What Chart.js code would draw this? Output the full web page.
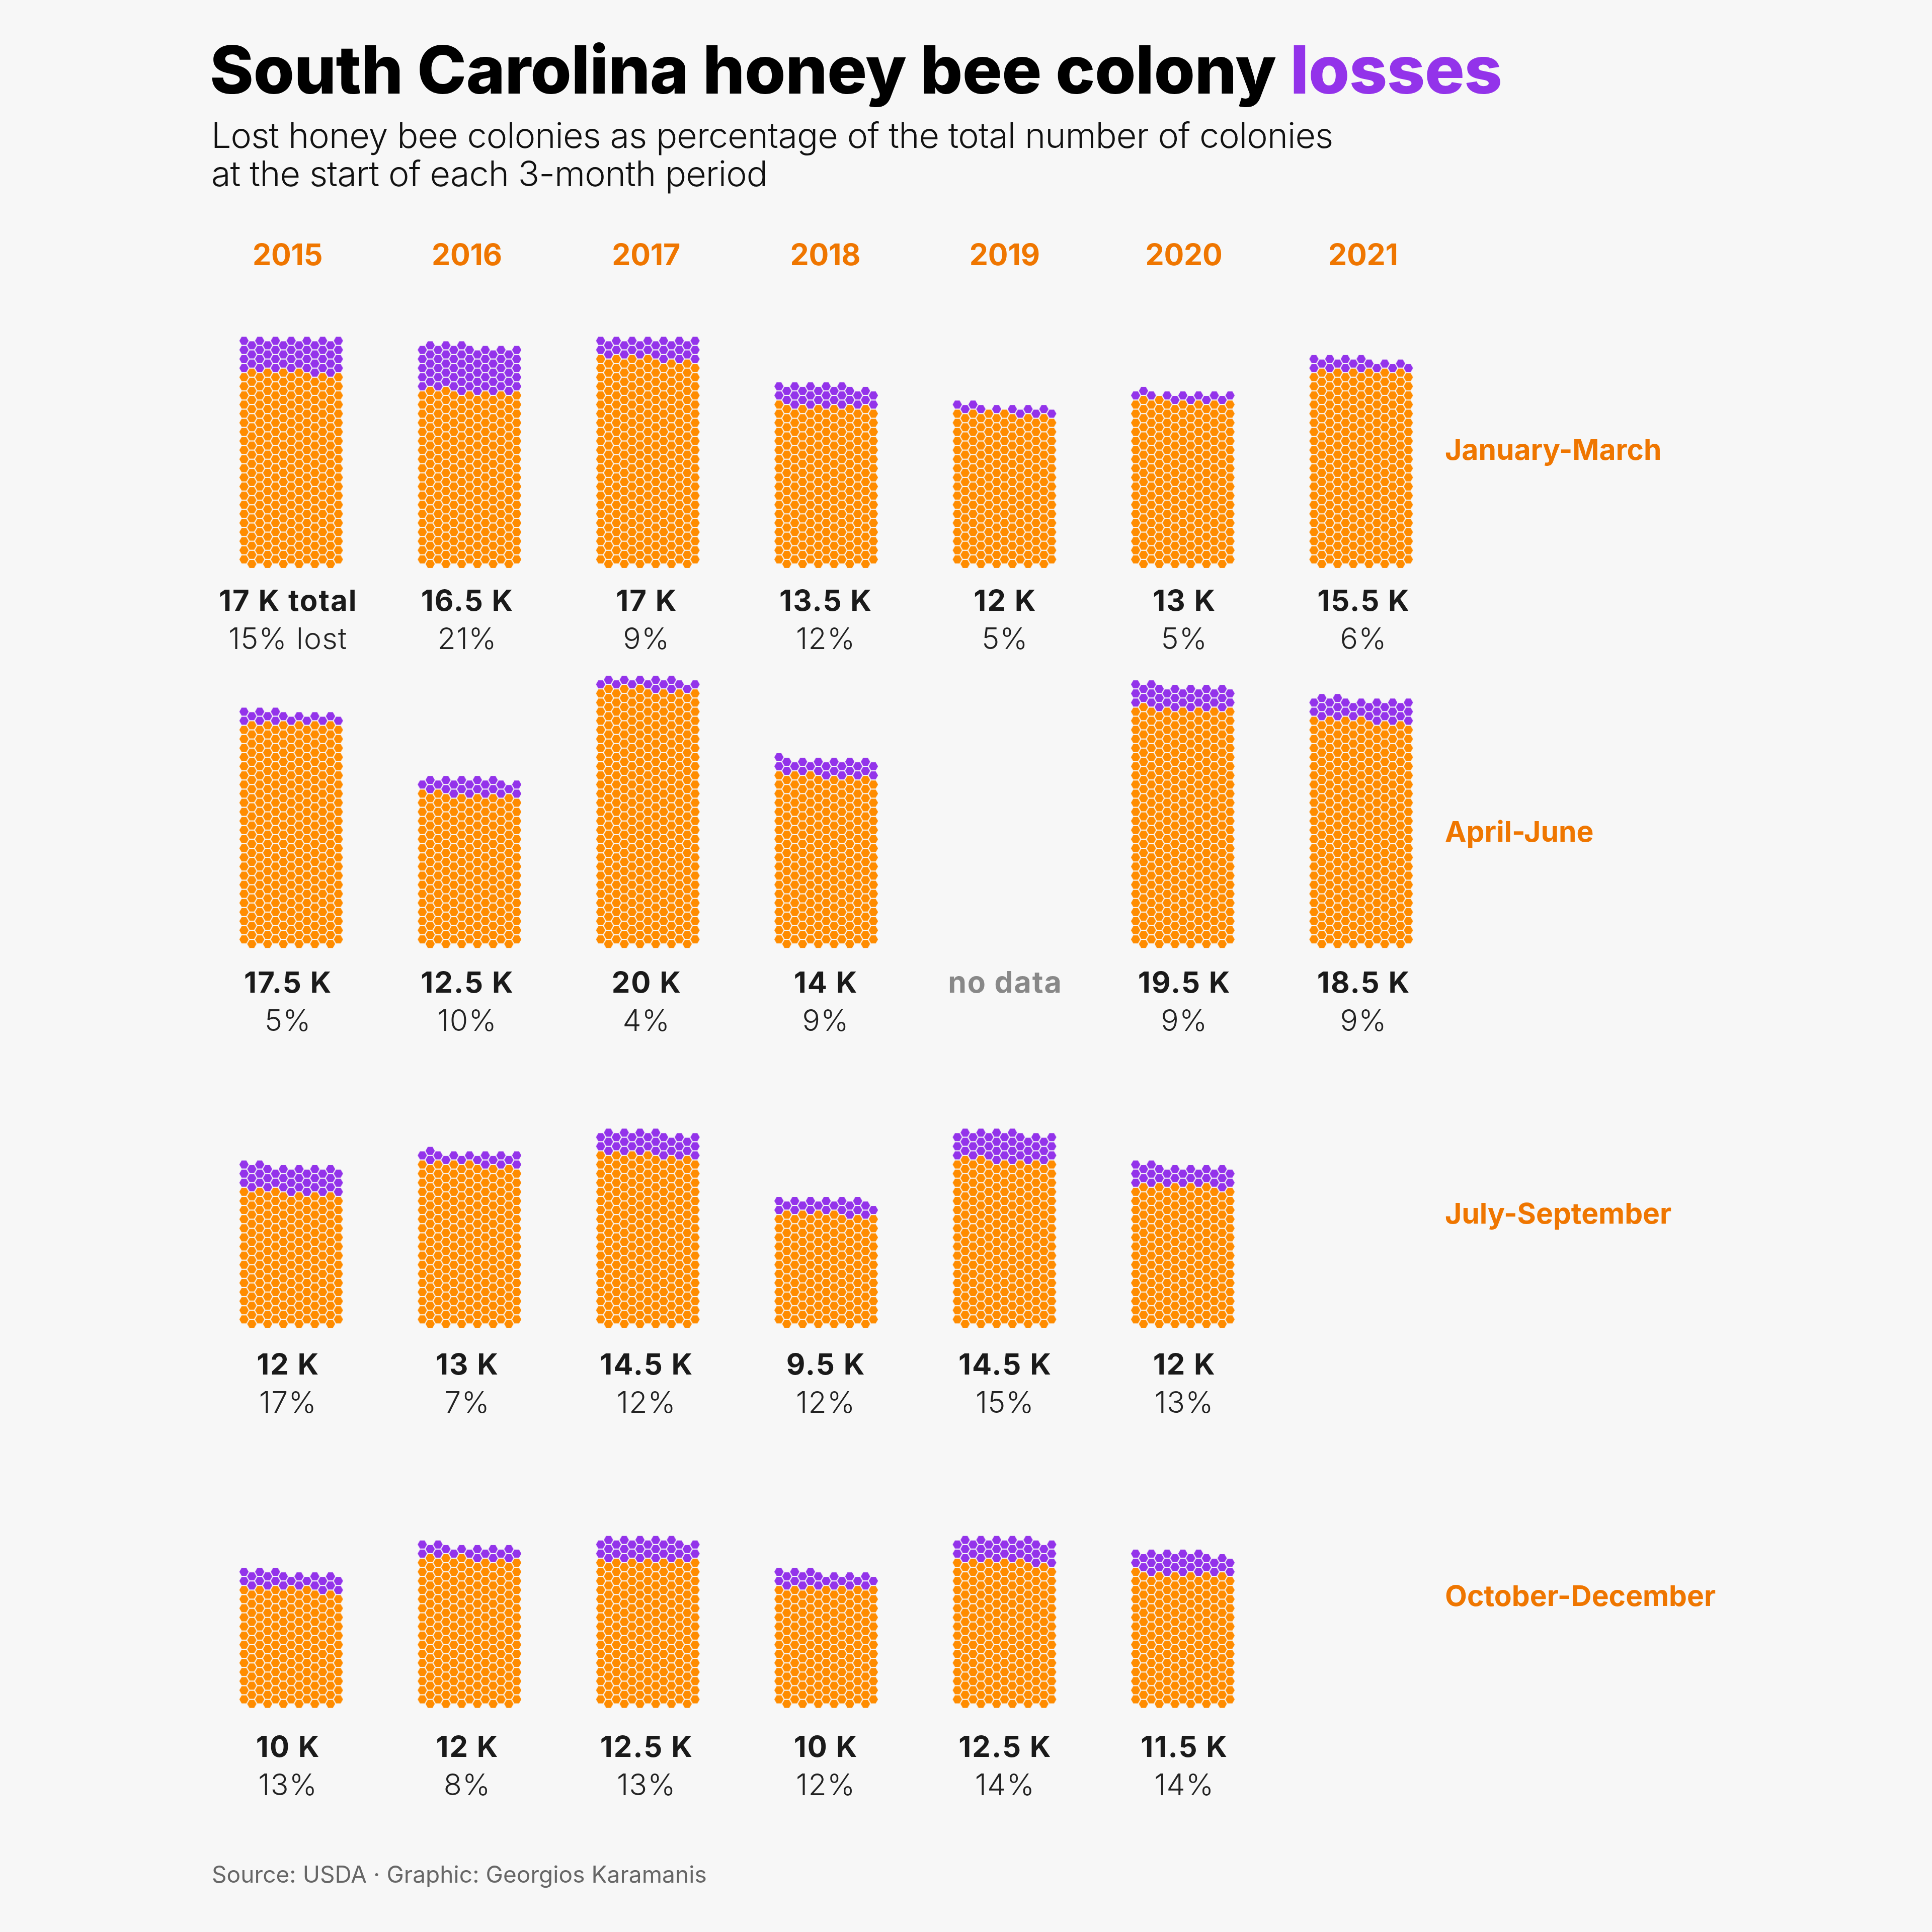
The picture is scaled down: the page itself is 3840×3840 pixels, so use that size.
<!DOCTYPE html>
<html><head><meta charset="utf-8">
<script src="https://cdn.jsdelivr.net/npm/chart.js@4.4.1/dist/chart.umd.min.js"></script>
<style>
html,body{margin:0;padding:0;background:#F7F7F7;}
body{width:3840px;height:3840px;position:relative;overflow:hidden;font-family:Inter,"Noto Sans",sans-serif;}
#c{position:absolute;left:0;top:0;}
.t{position:absolute;left:0;top:0;white-space:nowrap;line-height:1;}
.mk{display:inline-block;width:0;height:0;vertical-align:baseline;}
</style></head><body>
<canvas id="c" width="3840" height="3840"></canvas>
<div id="texts"></div>
<script>
// ---------------- data ----------------
const years = [2015, 2016, 2017, 2018, 2019, 2020, 2021];
const seasons = ['January-March', 'April-June', 'July-September', 'October-December'];
// total colonies at the start of each period (thousands); null = no data
const totalJanMar = [17, 16.5, 17, 13.5, 12, 13, 15.5];
const totalAprJun = [17.5, 12.5, 20, 14, null, 19.5, 18.5];
const totalJulSep = [12, 13, 14.5, 9.5, 14.5, 12, null];
const totalOctDec = [10, 12, 12.5, 10, 12.5, 11.5, null];
// percentage of colonies lost
const pctJanMar = [15, 21, 9, 12, 5, 5, 6];
const pctAprJun = [5, 10, 4, 9, null, 9, 9];
const pctJulSep = [17, 7, 12, 12, 15, 13, null];
const pctOctDec = [13, 8, 13, 12, 14, 14, null];
const noDataMark = [[], [2019], [], []];   // cells labelled "no data"

const totals = [totalJanMar, totalAprJun, totalJulSep, totalOctDec];
const pcts = [pctJanMar, pctAprJun, pctJulSep, pctOctDec];

// ---------------- layout constants ----------------
const COLONIES_PER_HEX = 52.3;
const NCOL = 13;
const CELL_X0 = 571.7, CELL_DX = 356.3;
const ROW_Y0 = 1116.7, ROW_DY = 759.2;
const HEX_DX = 15.72, HEX_HALF_DY = 9.1, HEX_R = 9.2;
const ORANGE = '#FF8C00', PURPLE = '#9333EA', LABEL_ORANGE = '#EF7600';

function hexImage(color) {
  const s = 22;
  const cv = document.createElement('canvas');
  cv.width = s; cv.height = s;
  const g = cv.getContext('2d');
  g.fillStyle = color;
  g.beginPath();
  for (let i = 0; i < 6; i++) {
    const a = Math.PI / 3 * i;
    const x = s / 2 + HEX_R * Math.cos(a), y = s / 2 + HEX_R * Math.sin(a);
    if (i) g.lineTo(x, y); else g.moveTo(x, y);
  }
  g.closePath(); g.fill();
  return cv;
}

const oddCols = [], evenCols = [];
for (let c = 0; c < NCOL; c++) (c % 2 ? oddCols : evenCols).push(c);

const keptPts = [], lostPts = [];
seasons.forEach((s, si) => {
  years.forEach((yr, yi) => {
    const t = totals[si][yi], p = pcts[si][yi];
    if (t == null) return;
    const n = Math.floor(t * 1000 / COLONIES_PER_HEX);
    const lost = Math.floor(n * p / 100);
    const cx = CELL_X0 + yi * CELL_DX, by = ROW_Y0 + si * ROW_DY;
    let idx = 0, k = 0;
    while (idx < n) {
      const cols = (k % 2 === 0) ? oddCols : evenCols;
      for (const c of cols) {
        if (idx >= n) break;
        const pt = { x: cx + (c - 6) * HEX_DX, y: by - k * HEX_HALF_DY };
        (idx >= n - lost ? lostPts : keptPts).push(pt);
        idx++;
      }
      k++;
    }
  });
});

new Chart(document.getElementById('c'), {
  type: 'scatter',
  data: {
    datasets: [
      { label: 'Remaining colonies', data: keptPts, pointStyle: hexImage(ORANGE), pointRadius: 9, pointHoverRadius: 9 },
      { label: 'Lost colonies', data: lostPts, pointStyle: hexImage(PURPLE), pointRadius: 9, pointHoverRadius: 9 }
    ]
  },
  options: {
    responsive: false, animation: false, devicePixelRatio: 1, events: [],
    layout: { padding: 0 },
    plugins: { legend: { display: false }, tooltip: { enabled: false } },
    scales: {
      x: { type: 'linear', min: 0, max: 3840, display: false },
      y: { type: 'linear', min: 0, max: 3840, reverse: true, display: false }
    }
  }
});

// ---------------- text ----------------
const host = document.getElementById('texts');
function mk(html, style) {
  const el = document.createElement('div');
  el.className = 't';
  el.innerHTML = html + '<span class="mk"></span>';
  Object.assign(el.style, style);
  host.appendChild(el);
  return el;
}
function fitLS(el, target) {
  el.style.letterSpacing = '0px';
  const w0 = el.getBoundingClientRect().width;
  const n = el.textContent.length;
  const fs = parseFloat(el.style.fontSize);
  return (target + 0.06 * fs - w0) / Math.max(1, n - 1);
}
function place(el, x, base, align, ls) {
  if (ls != null) el.style.letterSpacing = ls + 'px';
  const r = el.getBoundingClientRect();
  const m = el.querySelector('.mk').getBoundingClientRect();
  const w = r.width - (ls || 0);
  el.style.left = (align === 'center' ? x - w / 2 : x) + 'px';
  el.style.top = (base - (m.top - r.top)) + 'px';
}

// title & subtitle
const title = mk('South Carolina honey bee colony <span style="color:' + PURPLE + '">losses</span>',
  { fontSize: '132px', fontWeight: '800', color: '#000' });
place(title, 417, 186, 'left', fitLS(title, 2561));
const sub1 = mk('Lost honey bee colonies as percentage of the total number of colonies',
  { fontSize: '70px', fontWeight: '300', color: '#111' });
const subLS = fitLS(sub1, 2226);
place(sub1, 420, 294, 'left', subLS);
const sub2 = mk('at the start of each 3-month period', { fontSize: '70px', fontWeight: '300', color: '#111' });
place(sub2, 420, 370, 'left', subLS);

// year headers
let yearLS = null;
years.forEach((yr, yi) => {
  const el = mk(String(yr), { fontSize: '59px', fontWeight: '700', color: LABEL_ORANGE });
  if (yearLS == null) yearLS = fitLS(el, 136);
  place(el, CELL_X0 + yi * CELL_DX, 527, 'center', yearLS);
});

// season labels
let seasonLS = null;
seasons.forEach((s, si) => {
  const el = mk(s, { fontSize: '57px', fontWeight: '700', color: LABEL_ORANGE });
  if (seasonLS == null) seasonLS = fitLS(el, 427);
  place(el, 2872, 914 + si * ROW_DY, 'left', seasonLS);
});

// cell labels
let totLS = null, pctLS = null;
seasons.forEach((s, si) => {
  years.forEach((yr, yi) => {
    const cx = CELL_X0 + yi * CELL_DX;
    const t = totals[si][yi], p = pcts[si][yi];
    if (t == null) {
      if (noDataMark[si].includes(yr)) {
        const el = mk('no data', { fontSize: '59px', fontWeight: '700', color: '#888' });
        place(el, cx, 1214 + si * ROW_DY, 'center', fitLS(el, 222));
      }
      return;
    }
    const first = (si === 0 && yi === 0);
    const e1 = mk(t + ' K' + (first ? ' total' : ''), { fontSize: '58px', fontWeight: '700', color: '#1A1A1A' });
    if (totLS == null) totLS = fitLS(e1, 270);
    place(e1, cx, 1214 + si * ROW_DY, 'center', totLS);
    const e2 = mk(p + '%' + (first ? ' lost' : ''), { fontSize: '59px', fontWeight: '300', color: '#222' });
    if (pctLS == null) pctLS = fitLS(e2, 232);
    place(e2, cx, 1290 + si * ROW_DY, 'center', pctLS);
  });
});

// source
const src = mk('Source: USDA · Graphic: Georgios Karamanis', { fontSize: '46px', fontWeight: '400', color: '#666' });
place(src, 421, 3742, 'left', fitLS(src, 981));
</script>
</body></html>
